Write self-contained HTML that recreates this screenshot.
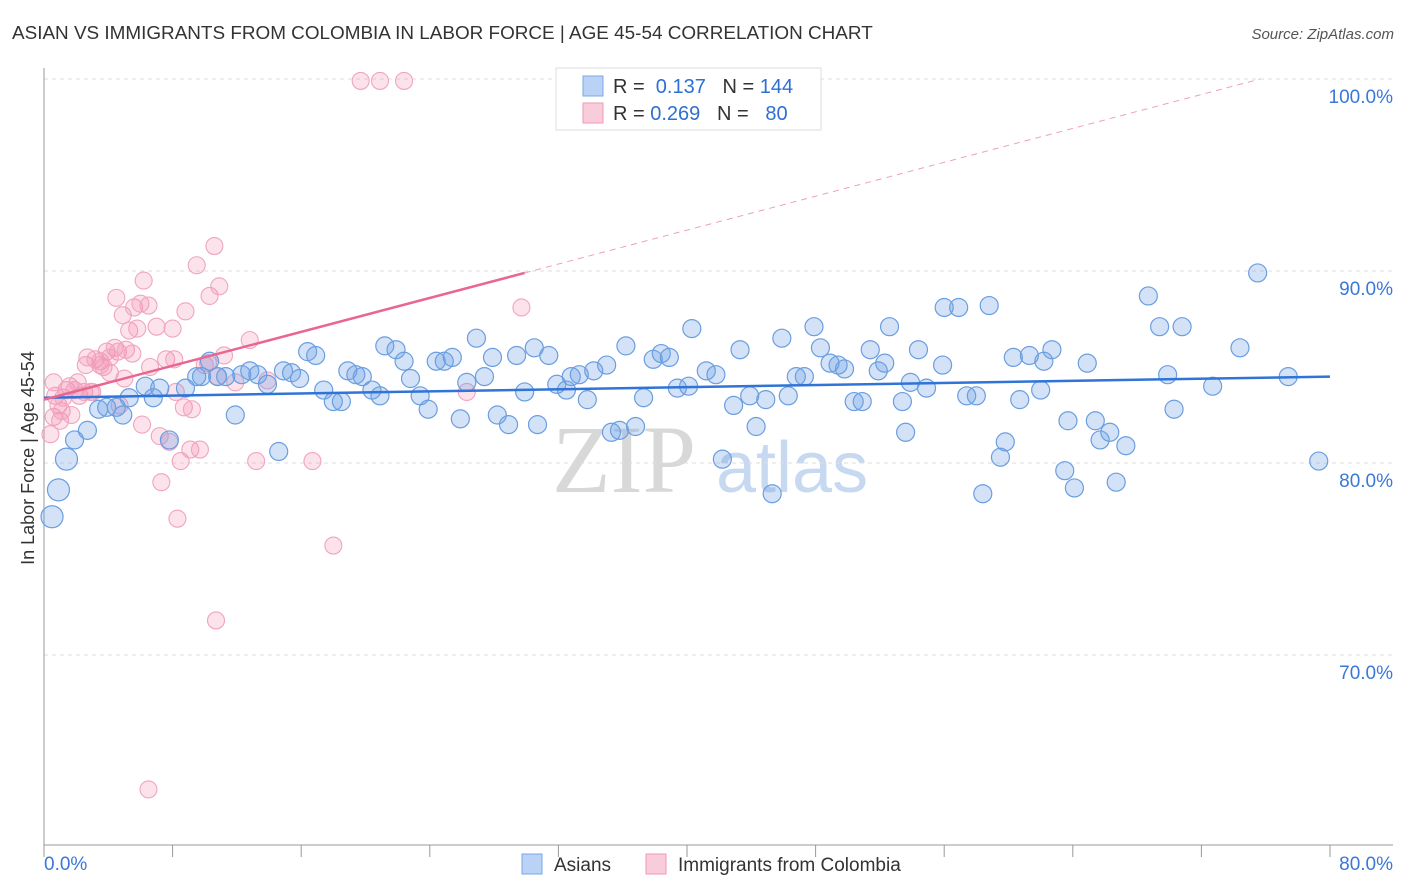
<!DOCTYPE html>
<html><head><meta charset="utf-8"><style>
body{margin:0;background:#fff;font-family:"Liberation Sans",sans-serif;}
#wrap{position:relative;width:1406px;height:892px;overflow:hidden;}
</style></head><body>
<div id="wrap">
<svg id="chart" width="1406" height="892" xmlns="http://www.w3.org/2000/svg">
<text x="12" y="39" font-size="18.9" fill="#333">ASIAN VS IMMIGRANTS FROM COLOMBIA IN LABOR FORCE | AGE 45-54 CORRELATION CHART</text>
<text x="1394" y="39" font-size="15" fill="#555" font-style="italic" text-anchor="end">Source: ZipAtlas.com</text>
<text x="34" y="458" font-size="18" fill="#333" text-anchor="middle" transform="rotate(-90 34 458)">In Labor Force | Age 45-54</text>
<g>
<text x="552" y="492" font-size="96" font-family="Liberation Serif,serif" fill="#d8d8d8">ZIP</text>
<text x="716" y="492" font-size="72" fill="#c7d9f0">atlas</text>
</g>
<g id="grid"></g><g id="axes"></g><g id="pts"></g><g id="trend"></g>
<g>
<rect x="556" y="68" width="265" height="62" fill="#fff" stroke="#ddd"/>
<rect x="583" y="76" width="20" height="20" fill="#b9d2f5" stroke="#7ba7e6"/>
<rect x="583" y="103" width="20" height="20" fill="#f9ccd9" stroke="#ef9ab6"/>
<text x="613" y="93" font-size="20" fill="#333">R = <tspan fill="#2e6fd1">&#160;0.137</tspan>&#160;&#160;&#160;N = <tspan fill="#2e6fd1">144</tspan></text>
<text x="613" y="120" font-size="20" fill="#333">R = <tspan fill="#2e6fd1">0.269</tspan>&#160;&#160;&#160;N = <tspan fill="#2e6fd1">&#160;&#160;80</tspan></text>
</g>
<g>
<rect x="522" y="854" width="20" height="20" fill="#b9d2f5" stroke="#7ba7e6"/>
<text x="554" y="871" font-size="19" fill="#333">Asians</text>
<rect x="646" y="854" width="20" height="20" fill="#f9ccd9" stroke="#ef9ab6"/>
<text x="678" y="871" font-size="19" fill="#333">Immigrants from Colombia</text>
</g>
</svg>
</div>
<script>
const blueX=[0.5,0.9,1.4,1.9,2.7,3.4,3.9,4.5,4.9,5.3,6.3,6.8,7.2,7.8,8.8,9.5,9.8,10.3,10.8,11.3,11.9,12.3,12.8,13.3,13.9,14.6,14.9,15.4,15.9,16.4,16.9,17.4,18.0,18.5,18.9,19.4,19.8,20.4,20.9,21.2,21.9,22.4,22.8,23.4,23.9,24.4,24.9,25.4,25.9,26.3,26.9,27.4,27.9,28.2,28.9,29.4,29.9,30.5,30.7,31.4,31.9,32.5,32.8,33.3,33.8,34.2,35.0,35.3,35.8,36.2,36.8,37.3,37.9,38.4,38.9,39.4,40.1,40.3,41.2,41.8,42.2,42.9,43.3,43.9,44.3,44.9,45.3,45.9,46.3,46.8,47.3,47.9,48.3,48.9,49.4,49.8,50.4,50.9,51.4,51.9,52.3,52.6,53.4,53.6,53.9,54.4,54.9,55.9,56.0,56.9,57.4,58.0,58.4,58.8,59.5,59.8,60.3,60.7,61.3,62.0,62.2,62.7,63.5,63.7,64.1,64.9,65.4,65.7,66.3,66.7,67.3,68.7,69.4,69.9,70.3,70.8,72.7,74.4,75.5,77.4,79.3];
const blueY=[77.2,78.6,80.2,81.2,81.7,82.8,82.9,82.9,82.5,83.4,84.0,83.4,83.9,81.2,83.9,84.5,84.5,85.3,84.5,84.5,82.5,84.6,84.8,84.6,84.1,80.6,84.8,84.7,84.4,85.8,85.6,83.8,83.2,83.2,84.8,84.6,84.5,83.8,83.5,86.1,85.9,85.3,84.4,83.5,82.8,85.3,85.3,85.5,82.3,84.2,86.5,84.5,85.5,82.5,82.0,85.6,83.7,86.0,82.0,85.6,84.1,83.8,84.5,84.6,83.3,84.8,85.1,81.6,81.7,86.1,81.9,83.4,85.4,85.7,85.5,83.9,84.0,87.0,84.8,84.6,80.2,83.0,85.9,83.5,81.9,83.3,78.4,86.5,83.5,84.5,84.5,87.1,86.0,85.2,85.1,84.9,83.2,83.2,85.9,84.8,85.2,87.1,83.2,81.6,84.2,85.9,83.9,85.1,88.1,88.1,83.5,83.5,78.4,88.2,80.3,81.1,85.5,83.3,85.6,83.8,85.3,85.9,79.6,82.2,78.7,85.2,82.2,81.2,81.6,79.0,80.9,88.7,87.1,84.6,82.8,87.1,84.0,86.0,89.9,84.5,80.1];
const pinkX=[19.7,20.9,22.4,0.4,0.6,0.7,0.9,1.0,1.1,1.2,1.4,1.6,1.7,1.9,2.1,2.2,2.5,2.6,2.7,3.0,3.2,3.5,3.7,3.9,4.1,4.4,4.5,4.6,4.7,4.9,5.0,5.1,5.3,5.5,5.6,5.8,6.0,6.1,6.2,6.5,6.6,7.0,7.2,7.3,7.6,7.8,8.0,8.1,8.2,8.3,8.5,8.7,8.8,9.1,9.2,9.5,9.7,10.0,10.2,10.3,10.6,10.7,10.8,10.9,11.2,11.9,12.8,13.2,13.9,16.7,18.0,6.5,26.3,29.7,2.9,3.5,0.6,4.1];
const pinkY=[99.9,99.9,99.9,81.5,82.4,83.5,83.0,82.2,82.7,83.4,83.8,84.0,82.5,83.8,84.2,83.5,83.7,85.1,85.5,83.7,85.4,85.3,85.0,85.8,84.7,86.0,88.6,85.8,83.0,87.7,84.4,85.9,86.9,85.7,88.1,87.0,88.3,82.0,89.5,88.2,85.0,87.1,81.4,79.0,85.4,81.1,87.0,85.4,83.7,77.1,80.1,82.9,87.9,80.7,82.8,90.3,80.7,85.1,85.2,88.7,91.3,71.8,84.5,89.2,85.6,84.2,86.4,80.1,84.3,80.1,75.7,63.0,83.7,88.1,83.7,85.1,84.2,85.5];
const blueTrend=[83.4,84.5];
const pinkTrend=[83.3,89.9];
const pinkTrendEnd=29.9;
const xTicks=[0,8,16,24,32,40,48,56,64,72,80];
const yTicks=[100,90,80,70];
const NS="http://www.w3.org/2000/svg";
const sx=v=>44+v/80*1286;
const sy=v=>79+(100-v)*19.2;
function mk(tag,attrs,parent){const e=document.createElementNS(NS,tag);for(const k in attrs)e.setAttribute(k,attrs[k]);document.getElementById(parent).appendChild(e);return e;}
yTicks.forEach(t=>{
 const l=mk('line',{x1:44,x2:1393,y1:sy(t),y2:sy(t),stroke:'#ddd','stroke-dasharray':'4,4'},'grid');
 
 
 const tx=mk('text',{x:1393,y:sy(t)+24,'font-size':19,fill:'#3a78d8','text-anchor':'end'},'grid');
 tx.textContent=t.toFixed(1)+'%';
 
 
});
let a=mk('line',{x1:44,x2:44,y1:68,y2:845,stroke:'#999'},'axes');


a=mk('line',{x1:44,x2:1393,y1:845,y2:845,stroke:'#999'},'axes');


xTicks.forEach(t=>{
 const l=mk('line',{x1:sx(t),x2:sx(t),y1:845,y2:857,stroke:'#999'},'axes');
 
 
});
[[0,'start'],[80,'end']].forEach(([t,anc])=>{
 const tx=mk('text',{x:anc==='start'?sx(t):1393,y:870,'font-size':19,fill:'#3a78d8','text-anchor':anc},'axes');
 tx.textContent=t.toFixed(1)+'%';
 
 
});
pinkX.forEach((x,i)=>{
 const c=mk('circle',{cx:sx(x),cy:sy(pinkY[i]),r:8.5,fill:'rgba(242,140,175,0.25)',stroke:'#f0a5bf','stroke-width':1.1},'pts');
 
 
});
blueX.forEach((x,i)=>{
 const r=i<3?11:9;
 const c=mk('circle',{cx:sx(x),cy:sy(blueY[i]),r:r,fill:'rgba(110,160,230,0.3)',stroke:'#6a9ee0','stroke-width':1.2},'pts');
 
 
});
let t=mk('line',{x1:sx(0),y1:sy(blueTrend[0]),x2:sx(80),y2:sy(blueTrend[1]),stroke:'#2f74d6','stroke-width':2.5},'trend');


t=mk('line',{x1:sx(0),y1:sy(pinkTrend[0]),x2:sx(pinkTrendEnd),y2:sy(pinkTrend[1]),stroke:'#e8668f','stroke-width':2.5},'trend');


const slope=(pinkTrend[1]-pinkTrend[0])/pinkTrendEnd;
const xEnd=(100-pinkTrend[0])/slope;
t=mk('line',{x1:sx(pinkTrendEnd),y1:sy(pinkTrend[1]),x2:sx(xEnd),y2:sy(100),stroke:'#eea0b8','stroke-width':1,'stroke-dasharray':'6,5'},'trend');


</script>
</body></html>
